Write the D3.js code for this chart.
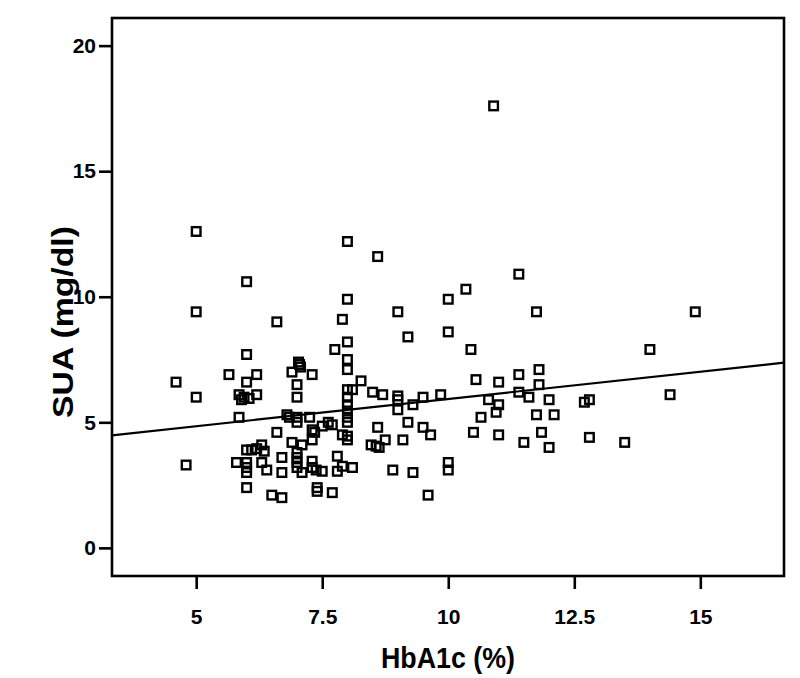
<!DOCTYPE html>
<html>
<head>
<meta charset="utf-8">
<script src="https://cdn.jsdelivr.net/npm/d3@7"></script>
<style>
  html, body { margin: 0; padding: 0; background: #fff; }
  svg { display: block; }
  text { font-family: "Liberation Sans", Arial, sans-serif; font-weight: bold; fill: #000; }
</style>
</head>
<body>
<svg id="chart" width="800" height="678"></svg>
<script>
// HbA1c (%) values
const hba1c = [
  10.9, 5.0, 8.0, 8.6, 11.4, 6.0, 10.35, 10.0, 8.0, 5.0,
  9.0, 11.75, 14.9, 7.9, 6.6, 10.0, 9.2, 8.0, 7.75, 10.45,
  14.0, 6.0, 8.0, 7.03, 7.05, 7.07, 8.0, 11.8, 6.9, 5.65,
  6.2, 7.3, 11.4, 10.55, 4.6, 6.0, 8.27, 11.0, 7.0, 11.8,
  8.0, 8.1, 8.5, 11.4, 5.85, 6.2, 8.7, 9.85, 14.4, 5.0,
  5.95, 6.05, 5.9, 7.0, 8.0, 9.0, 9.5, 11.6, 9.0, 10.8,
  12.0, 12.8, 12.7, 8.0, 9.3, 11.0, 8.0, 9.0, 10.95, 11.75,
  12.1, 6.8, 5.85, 6.85, 7.0, 7.25, 8.0, 10.65, 7.0, 7.62,
  7.7, 8.0, 9.2, 7.5, 8.6, 9.5, 7.3, 7.35, 6.6, 10.5,
  11.85, 7.9, 8.0, 9.65, 11.0, 12.8, 7.3, 8.0, 8.75, 9.1,
  6.9, 11.5, 13.5, 6.3, 7.1, 8.47, 8.57, 8.63, 12.0, 6.0,
  6.1, 6.2, 6.35, 7.0, 6.7, 7.0, 7.8, 5.8, 6.0, 6.3,
  7.0, 7.3, 10.0, 4.8, 7.9, 6.0, 7.0, 7.3, 8.1, 6.4,
  7.38, 8.9, 10.0, 6.0, 6.7, 7.1, 7.5, 7.8, 9.3, 6.0,
  7.4, 7.4, 7.7, 6.5, 9.6, 6.7
];
// SUA (mg/dl) values
const sua = [
  17.6, 12.6, 12.2, 11.6, 10.9, 10.6, 10.3, 9.9, 9.9, 9.4,
  9.4, 9.4, 9.4, 9.1, 9.0, 8.6, 8.4, 8.2, 7.9, 7.9,
  7.9, 7.7, 7.5, 7.4, 7.3, 7.2, 7.1, 7.1, 7.0, 6.9,
  6.9, 6.9, 6.9, 6.7, 6.6, 6.6, 6.65, 6.6, 6.5, 6.5,
  6.3, 6.3, 6.2, 6.2, 6.1, 6.1, 6.1, 6.1, 6.1, 6.0,
  6.0, 5.95, 5.9, 6.0, 6.0, 6.05, 6.0, 6.0, 5.9, 5.9,
  5.9, 5.9, 5.8, 5.7, 5.7, 5.7, 5.45, 5.5, 5.4, 5.3,
  5.3, 5.3, 5.2, 5.2, 5.2, 5.2, 5.2, 5.2, 5.0, 5.0,
  4.9, 5.0, 5.0, 4.85, 4.8, 4.8, 4.7, 4.6, 4.6, 4.6,
  4.6, 4.5, 4.45, 4.5, 4.5, 4.4, 4.3, 4.3, 4.3, 4.3,
  4.2, 4.2, 4.2, 4.1, 4.1, 4.1, 4.05, 4.0, 4.0, 3.9,
  3.9, 3.95, 3.85, 3.8, 3.6, 3.6, 3.65, 3.4, 3.4, 3.4,
  3.4, 3.45, 3.4, 3.3, 3.25, 3.2, 3.2, 3.2, 3.2, 3.1,
  3.1, 3.1, 3.1, 3.0, 3.0, 3.0, 3.05, 3.05, 3.0, 2.4,
  2.4, 2.25, 2.2, 2.1, 2.1, 2.0
];
// Fit line: SUA = intercept + slope * HbA1c
const fitIntercept = 3.76;
const fitSlope = 0.217;

const xTicks = [5, 7.5, 10, 12.5, 15];
const yTicks = [0, 5, 10, 15, 20];
const xTitle = "HbA1c (%)";
const yTitle = "SUA (mg/dl)";

const svg = d3.select("#chart");
const mLeft = 112, mRight = 784, mTop = 18, mBottom = 576;

const x = d3.scaleLinear().domain([3.33, 16.66]).range([mLeft, mRight]);
const y = d3.scaleLinear().domain([-1.12, 21.1]).range([mBottom, mTop]);

const points = hba1c.map((v, i) => ({ x: v, y: sua[i] }));

// Axes
const xAxis = d3.axisBottom(x).tickValues(xTicks).tickSizeOuter(0).tickSize(13).tickPadding(20)
  .tickFormat(d => String(d));
const yAxis = d3.axisLeft(y).tickValues(yTicks).tickSizeOuter(0).tickSize(13).tickPadding(3)
  .tickFormat(d => String(d));

const gx = svg.append("g").attr("transform", `translate(0,${mBottom})`).call(xAxis);
const gy = svg.append("g").attr("transform", `translate(${mLeft},0)`).call(yAxis);
[gx, gy].forEach(g => {
  g.select(".domain").remove();
  g.selectAll(".tick line").attr("stroke", "#000").attr("stroke-width", 2.6);
  g.selectAll(".tick text").style("font-size", "21px").style("font-weight", "bold")
    .style("font-family", "'Liberation Sans', Arial, sans-serif").attr("fill", "#000");
});

// Frame
svg.append("rect")
  .attr("x", mLeft).attr("y", mTop)
  .attr("width", mRight - mLeft).attr("height", mBottom - mTop)
  .attr("fill", "none").attr("stroke", "#000").attr("stroke-width", 2.6);

// Fit line
const [x0, x1] = x.domain();
svg.append("line")
  .attr("x1", x(x0)).attr("y1", y(fitIntercept + fitSlope * x0))
  .attr("x2", x(x1)).attr("y2", y(fitIntercept + fitSlope * x1))
  .attr("stroke", "#000").attr("stroke-width", 2.2);

// Points (hollow squares)
const s = 8.6;
svg.append("g").selectAll("rect")
  .data(points).join("rect")
  .attr("x", d => x(d.x) - s / 2)
  .attr("y", d => y(d.y) - s / 2)
  .attr("width", s).attr("height", s)
  .attr("fill", "none").attr("stroke", "#000").attr("stroke-width", 2.4);

// Titles
svg.append("text")
  .attr("x", (mLeft + mRight) / 2).attr("y", 668)
  .attr("text-anchor", "middle")
  .style("font-size", "30px")
  .attr("textLength", 134).attr("lengthAdjust", "spacingAndGlyphs")
  .text(xTitle);

svg.append("text")
  .attr("transform", `translate(73,${(mTop + mBottom) / 2 + 25}) rotate(-90)`)
  .attr("text-anchor", "middle")
  .style("font-size", "30px")
  .attr("textLength", 192).attr("lengthAdjust", "spacingAndGlyphs")
  .text(yTitle);
</script>
</body>
</html>
